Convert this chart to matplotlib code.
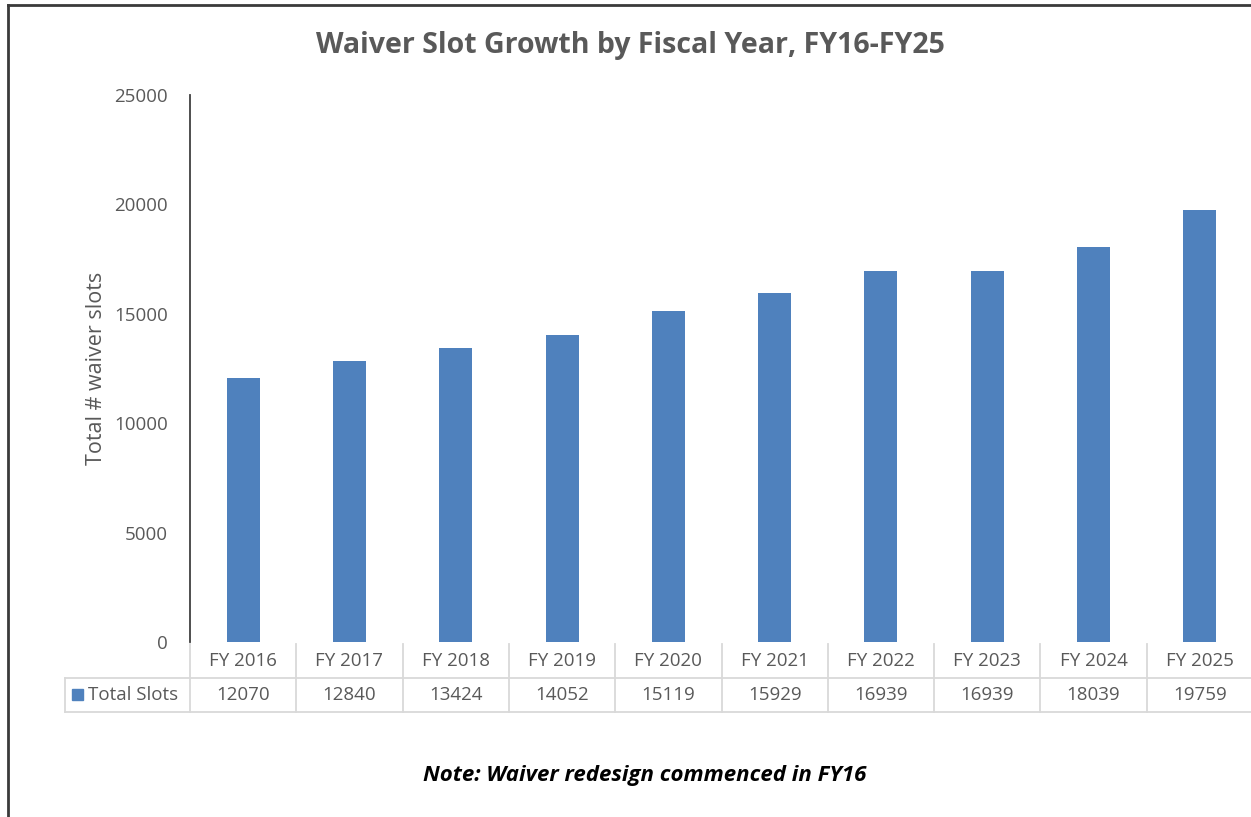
import matplotlib.pyplot as plt
import matplotlib.transforms as mtransforms
from matplotlib.lines import Line2D
from matplotlib.patches import Rectangle

# data
years = ["FY 2016", "FY 2017", "FY 2018", "FY 2019", "FY 2020",
         "FY 2021", "FY 2022", "FY 2023", "FY 2024", "FY 2025"]
total_slots = [12070, 12840, 13424, 14052, 15119, 15929, 16939, 16939, 18039, 19759]
y_ticks = [0, 5000, 10000, 15000, 20000, 25000]

bar_color = "#4F81BD"
text_gray = "#595959"
grid_gray = "#D9D9D9"
W, H = 1251, 817

plt.rcParams['font.family'] = ['Open Sans', 'DejaVu Sans']

fig = plt.figure(figsize=(W / 100, H / 100), dpi=100)
ax = fig.add_axes([190 / W, 1 - 642 / H, (1253 - 190) / W, (642 - 95) / H])

x = list(range(len(years)))
ax.bar(x, total_slots, width=0.31, color=bar_color)
ax.set_xlim(-0.5, len(years) - 0.5)
ax.set_ylim(0, 25000)
ax.set_yticks(y_ticks)
ax.set_yticklabels([str(v) for v in y_ticks], color=text_gray, fontsize=13.5)
ax.tick_params(axis='y', length=0, pad=16)
ax.set_xticks([])
for s in ['top', 'right', 'bottom']:
    ax.spines[s].set_visible(False)
ax.spines['left'].set_color("#404040")
ax.spines['left'].set_linewidth(1.3)
ax.set_ylabel("Total # waiver slots", color=text_gray, fontsize=15.5, labelpad=5)

# data table under the axis (x in data units, y in figure pixels)
px = mtransforms.Affine2D().scale(1 / W, 1 / H) + fig.transFigure
blend = mtransforms.blended_transform_factory(ax.transData, fig.transFigure)
row_top, row_bot = 1 - 644 / H, 1 - 712 / H
fs = 13.5

for i, (yr, val) in enumerate(zip(years, total_slots)):
    ax.text(i, 1 - 661 / H, yr, transform=blend, ha='center', va='center',
            color=text_gray, fontsize=fs, clip_on=False)
    ax.text(i, 1 - 695 / H, str(val), transform=blend, ha='center', va='center',
            color=text_gray, fontsize=fs, clip_on=False)
    fig.add_artist(Line2D([i - 0.5, i - 0.5], [row_bot, row_top], transform=blend,
                          color=grid_gray, lw=1.3))
fig.add_artist(Line2D([len(years) - 0.5] * 2, [row_bot, row_top], transform=blend,
                      color=grid_gray, lw=1.3))
fig.add_artist(Line2D([65, 1253], [H - 678, H - 678], transform=px, color=grid_gray, lw=1.3))
fig.add_artist(Line2D([65, 1253], [H - 712, H - 712], transform=px, color=grid_gray, lw=1.3))
fig.add_artist(Line2D([65, 65], [H - 712, H - 678], transform=px, color=grid_gray, lw=1.3))
fig.add_artist(Rectangle((72, H - 700), 11, 11, transform=px, color=bar_color))
fig.text(88 / W, 1 - 695 / H, "Total Slots", ha='left', va='center',
         color=text_gray, fontsize=fs)

fig.text(630 / W, 1 - 45 / H, "Waiver Slot Growth by Fiscal Year, FY16-FY25",
         ha='center', va='center', color=text_gray, fontsize=20.5, fontweight='bold')
fig.text(645 / W, 1 - 775 / H, "Note: Waiver redesign commenced in FY16",
         ha='center', va='center', color='black', fontsize=16,
         fontweight='bold', fontstyle='italic')

# outer frame (top and left edges visible)
fig.add_artist(Line2D([8, 1251], [H - 5, H - 5], transform=px, color="#3a3a3a", lw=2))
fig.add_artist(Line2D([8, 8], [0, H - 5], transform=px, color="#3a3a3a", lw=2))

fig.savefig("out.png", dpi=100, facecolor='white')
